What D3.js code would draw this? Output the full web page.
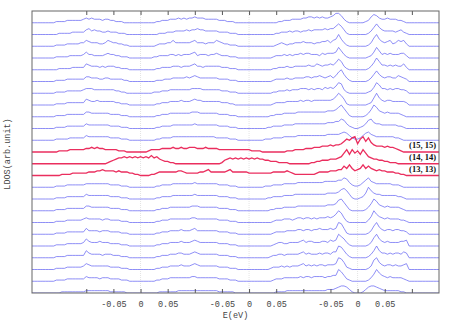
<!DOCTYPE html>
<html>
<head>
<meta charset="utf-8">
<script src="https://cdn.jsdelivr.net/npm/d3@7"></script>
<style>
  body { margin: 0; background: #fff; }
</style>
</head>
<body>
<script>
const width = 460;
const height = 322;

// Energy axis: three panels of -0.1..0.1 eV laid side by side on one scale
const xDomain = [-0.2, 0.55];
const tickVals = [-0.1, -0.05, 0, 0.05, 0.1, 0.15, 0.2, 0.25, 0.3, 0.35, 0.4, 0.45, 0.5];
const tickLabels = ['', '-0.05', '0', '0.05', '', '-0.05', '0', '0.05', '', '-0.05', '0', '0.05', ''];
const zeroLines = [0, 0.2, 0.4];

// LDOS of each site, top to bottom. One string per row, split in chunks of 0.1 eV,
// one char per 0.005 eV sample, height in tenths of the row offset (base 36 digits)
const blueTop = [
  '00000000011112222223 43433323322111000000 00000011222333434344 54443333322211100000 00000000000112223333 44554545445688631000 00012576433433322100',
  '00000000001111122222 45343322322211100000 00000001112223333434 45443333322221110000 00000000001122232332 33434444545579741000 00001369643333234210',
  '00000000011112222233 54333223543322110000 00000012223353333334 53332333543221110000 00000000001232122333 4333233445356a631000 0000137a643452354520',
  '00000000011111222223 53322223433221110000 00000112222332323334 52333233432221110000 00000000012223232334 34433324344459631000 00001259634343334420',
  '00000000001111122222 54333232333221110000 00000011222233323334 53323333332221110000 00000000011222322333 33433543445469731000 0000136a744343433520',
  '00000000011112222222 44333223322222110000 00000011122233333434 54333333322221110000 00000000012222322333 34434454345358a63100 00001369643443354320',
  '00000000011112222223 44433333333221100000 00000111222333333334 44433333332221110000 00000000011222323334 44343443545469831000 00001259744343443320',
  '00000000011112222222 54334333333221110000 00000011222333343334 54433333332221100000 00000000012222333334 3443444444457a851000 0000126a643443333320',
  '00000000011112222222 44333333322221110000 00000011222333333334 44333333322221110000 00000000112223333344 44444444455568a74100 000136a8543433332100',
  '00000000011112222222 43333333322221110000 00000011222233333333 43333333322221110000 00000001122223333444 44444444455566874210 01247854433333322100',
  '00000000011111222222 43333333322221110000 00000011222233333333 33333333222221110000 00000011122223333344 44444444455555676421 12467543333333221000'
];

const redRows = [
  '00000000001111222222 33434332222211100000 00012222333343343344 43334333322222222222 21111000000000111222 2333444555656679bacd 7bd9c8655545443210000',
  '00000000000000000000 00000000123455656565 65657564322110000000 00000000001345454545 45454433222111100000 0001122333444569c8c9 b8c96544332211100000',
  '00000000000111122222 23334454444343332211 00001123333333443222 22334533333345333333 22222222233333432111 11111233334445586964 56968654544333221100'
];
const redLabels = ['(15, 15)', '(14, 14)', '(13, 13)'];

const blueBottom = [
  '00000000011112222222 33333333322221110000 00000011222233333333 43333333322221110000 00000011122223333344 44444444555556687421 12468543333332221000',
  '00000000011112222222 43333333322221110000 00000011222233333333 43333333322221110000 00000001122223333444 44444444455556897410 0125a754433333322100',
  '00000000011112222222 44333333322221110000 00000011222333333334 44333333322221110000 00000000112223333344 44444444455569a74100 000136a8543433332100',
  '00000000011112222223 43333323322221110000 00000011222333333334 43333333322221110000 00000000012223332344 3443434445457a841000 000025a7543433332210',
  '00000000011112222222 53333233322221110000 00000011222333343334 53333333322221110000 00000000012222333344 3443445444545a951000 0000137a643443443320',
  '00000000011112222223 64333433322221110000 00000011222333343334 54333333322221110000 00000000012332233334 5344333443545a863100 0000137a643433334450',
  '00000000011112222222 64333323332221110000 00000011222333443334 54333333322221110000 00000000122332333334 5343334344355a963100 0000136a644343443540',
  '00000000011112222223 54333333322221110000 00000011222333343334 54333333322221110000 00000000122232323334 5343434434445a962100 0000138a643443433450',
  '00000000011112222222 43333233322221110000 00000011222333333334 43333333322221110000 00000000012223333334 3443444434455a852100 0000136a754343333210',
  '00000000000111111111 22222222211111100000 00000001111111222222 22222222211111100000 00000000001111222222 22222222233345665310 00135665432222221100'
];

const nPts = 151;
const energy = d3.range(nPts).map(i => xDomain[0] + i * 0.005);

function decode(str) {
  var vals = [];
  str.split(' ').forEach(function(seg) {
    var s = seg.slice(0, 20).padEnd(20, '0');
    for (var j = 0; j < 20; j++) vals.push(parseInt(s[j], 36) / 10);
  });
  while (vals.length < nPts) vals.push(0);
  return vals.slice(0, nPts);
}

const rows = blueTop.concat(redRows, blueBottom).map(function(s, k) {
  return { k: k, red: k >= blueTop.length && k < blueTop.length + redRows.length, vals: decode(s) };
});
const nRows = rows.length;

const margin = { left: 32, right: 21, top: 11, bottom: 29 };
const plotW = width - margin.left - margin.right;
const plotH = height - margin.top - margin.bottom;

const x = d3.scaleLinear().domain(xDomain).range([0, plotW]);
const y = d3.scaleLinear().domain([0, nRows]).range([plotH, 0]);

const svg = d3.select('body').append('svg')
  .attr('width', width)
  .attr('height', height);

const g = svg.append('g')
  .attr('transform', 'translate(' + margin.left + ',' + margin.top + ')');

svg.append('defs').append('clipPath').attr('id', 'clip')
  .append('rect').attr('width', plotW).attr('height', plotH);

// faint zero lines of each panel
g.selectAll('.zero').data(zeroLines).enter().append('line')
  .attr('x1', d => x(d)).attr('x2', d => x(d))
  .attr('y1', 0).attr('y2', plotH)
  .attr('stroke', '#dcdcdc')
  .attr('stroke-width', 0.8)
  .attr('stroke-dasharray', '1,1');

const curves = g.append('g').attr('clip-path', 'url(#clip)');

function lineFor(row) {
  var base = nRows - 1 - row.k;
  return d3.line()
    .x((d, i) => x(energy[i]))
    .y(d => y(base + d))(row.vals);
}

curves.selectAll('.blue').data(rows.filter(r => !r.red)).enter().append('path')
  .attr('d', lineFor)
  .attr('fill', 'none')
  .attr('stroke', '#6262f2')
  .attr('stroke-opacity', 0.8)
  .attr('stroke-width', 0.9);

curves.selectAll('.red').data(rows.filter(r => r.red)).enter().append('path')
  .attr('d', lineFor)
  .attr('fill', 'none')
  .attr('stroke', '#e8174c')
  .attr('stroke-opacity', 0.9)
  .attr('stroke-width', 1.3);

// site labels of the red rows
g.selectAll('.lab').data(redLabels).enter().append('text')
  .attr('x', plotW - 3)
  .attr('y', (d, i) => y(nRows - 1 - (blueTop.length + i)) - 4)
  .style('font-family', 'Liberation Serif, serif')
  .style('font-size', '8.5px')
  .style('font-weight', 'bold')
  .style('text-anchor', 'end')
  .style('fill', '#111')
  .text(d => d);

// axes: ticks inside on top and bottom
const xb = g.append('g')
  .attr('transform', 'translate(0,' + plotH + ')')
  .call(d3.axisBottom(x).tickValues(tickVals).tickSize(-4).tickPadding(8)
    .tickFormat((d, i) => tickLabels[i]));
const xt = g.append('g')
  .call(d3.axisTop(x).tickValues(tickVals).tickSize(-4).tickFormat(''));

[xb, xt].forEach(function(ax) {
  ax.select('.domain').remove();
  ax.selectAll('.tick line').attr('stroke', '#555');
});
xb.selectAll('.tick text')
  .style('font-family', 'Liberation Mono, monospace')
  .style('font-size', '8.5px')
  .style('fill', '#444');

// frame
g.append('rect')
  .attr('width', plotW).attr('height', plotH)
  .attr('fill', 'none')
  .attr('stroke', '#666')
  .attr('stroke-width', 1);

// axis titles
svg.append('text')
  .attr('x', margin.left + plotW / 2)
  .attr('y', 318)
  .style('font-family', 'Liberation Mono, monospace')
  .style('font-size', '8.5px')
  .style('text-anchor', 'middle')
  .style('fill', '#444')
  .text('E(eV)');

svg.append('text')
  .attr('transform', 'translate(10,' + 154 + ') rotate(-90)')
  .style('font-family', 'Liberation Mono, monospace')
  .style('font-size', '8.5px')
  .style('text-anchor', 'middle')
  .style('fill', '#444')
  .text('LDOS(arb.unit)');
</script>
</body>
</html>
